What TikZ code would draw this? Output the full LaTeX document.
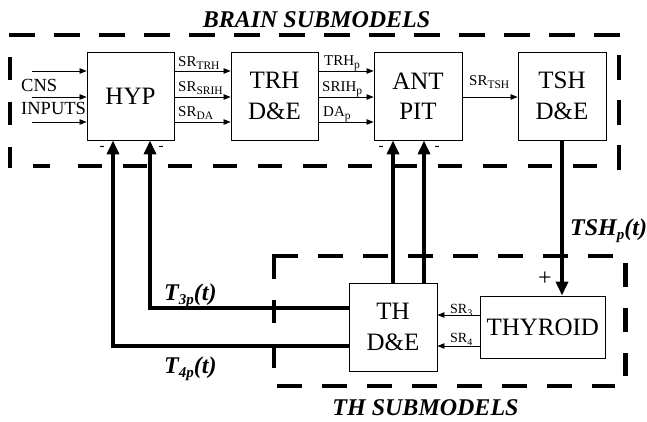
\documentclass[tikz,border=0pt]{standalone}
\usepackage{fontspec}
\setmainfont{Liberation Serif}
\usetikzlibrary{arrows.meta}
\newcommand{\lsub}[1]{\raisebox{-3pt}{\fontsize{11.5}{11.5}\selectfont #1}}
\newcommand{\ssub}[1]{\raisebox{-3pt}{\fontsize{10}{10}\selectfont #1}}
\newcommand{\bsub}[1]{\raisebox{-4.5pt}{\fontsize{15}{15}\selectfont #1}}
\begin{document}
\begin{tikzpicture}[x=1pt,y=-1pt,
  box/.style={draw, line width=0.9pt, minimum width=87pt, minimum height=88pt, inner sep=0pt, align=center, font=\fontsize{25}{30.5}\selectfont},
  fb/.style={line width=4pt, line join=miter, -{Triangle[length=14pt,width=12pt]}},
  sig/.style={line width=0.8pt, -{Triangle[length=7pt,width=5.5pt]}},
  lbl/.style={anchor=base west, inner sep=0pt, font=\fontsize{15}{15}\selectfont},
  slbl/.style={anchor=base west, inner sep=0pt, font=\fontsize{14}{14}\selectfont},
  inlbl/.style={anchor=base west, inner sep=0pt, font=\fontsize{18.5}{18.5}\selectfont},
  big/.style={inner sep=0pt, font=\fontsize{24}{24}\selectfont\bfseries\itshape},
  sign/.style={inner sep=0pt, font=\fontsize{15}{15}\selectfont},
  dsh/.style={line width=4.5pt}
]
\useasboundingbox (0,0) rectangle (647,422);

% dashed submodel frames
\draw[dsh, dash pattern=on 26pt off 19pt] (9,35) -- (620,35);
\draw[dsh, dash pattern=on 23pt off 22pt] (10,57) -- (10,168);
\draw[dsh, dash pattern=on 25pt off 20pt] (619,55) -- (619,170);
\draw[dsh] (33,166) -- (50,166);
\draw[dsh, dash pattern=on 24pt off 21pt] (78,166) -- (597,166);

\draw[dsh, line join=miter] (274,279) -- (274,256) -- (298,256);
\draw[dsh, dash pattern=on 25pt off 20pt] (318,256) -- (613,256);
\draw[dsh, dash pattern=on 23pt off 24pt] (274,300) -- (274,368);
\draw[dsh, dash pattern=on 25pt off 20pt] (277,386) -- (615,386);
\draw[dsh, dash pattern=on 24pt off 21pt] (625.5,263) -- (625.5,376);

% blocks
\node[box] (hyp) at (130.5,96) {HYP};
\node[box] (trh) at (274.5,96) {TRH\\D\&E};
\node[box, minimum width=88pt] (ant) at (418,96) {ANT\\PIT};
\node[box, minimum width=88pt] (tsh) at (562,96) {TSH\\D\&E};
\node[box, minimum width=88pt] (th) at (393,327) {TH\\D\&E};
\node[box, minimum width=125.5pt, minimum height=62pt] (thy) at (542.75,327) {THYROID};

% CNS inputs
\coordinate (in1) at (32,71);
\coordinate (in2) at (32,97);
\coordinate (in3) at (32,122);
\draw[sig] (in1) -- (in1 -| hyp.west);
\draw[sig] (in2) -- (in2 -| hyp.west);
\draw[sig] (in3) -- (in3 -| hyp.west);
\node[inlbl] (cns) at (21,92) {CNS};
\node[inlbl] (inputs) at (21,115) {INPUTS};

% HYP -> TRH
\draw[sig] (hyp.east |- in1) -- (trh.west |- in1);
\draw[sig] (hyp.east |- in2) -- (trh.west |- in2);
\draw[sig] (hyp.east |- in3) -- (trh.west |- in3);
\node[lbl] (l1) at (178,67) {SR\lsub{TRH}};
\node[lbl] (l2) at (178,92) {SR\lsub{SRIH}};
\node[lbl] (l3) at (178,117) {SR\lsub{DA}};

% TRH -> ANT
\draw[sig] (trh.east |- in1) -- (ant.west |- in1);
\draw[sig] (trh.east |- in2) -- (ant.west |- in2);
\draw[sig] (trh.east |- in3) -- (ant.west |- in3);
\node[lbl] (l4) at (324,66) {TRH\lsub{p}};
\node[lbl] (l5) at (322,92) {SRIH\lsub{p}};
\node[lbl] (l6) at (323,117) {DA\lsub{p}};

% ANT -> TSH
\draw[sig] ([yshift=-1pt]ant.east) -- ([yshift=-1pt]tsh.west);
\node[lbl] (l7) at (469,86) {SR\lsub{TSH}};

% THYROID -> TH
\draw[sig] ([yshift=12pt]thy.west) -- ([yshift=12pt]th.east);
\draw[sig] ([yshift=-19pt]thy.west) -- ([yshift=-19pt]th.east);
\node[slbl] (l8) at (450,313) {SR\ssub{3}};
\node[slbl] (l9) at (450,342) {SR\ssub{4}};

% feedback and TSH connections
\draw[fb] ([yshift=19pt]th.west) -| ([xshift=19.5pt]hyp.south);
\draw[fb] ([yshift=-19pt]th.west) -| ([xshift=-17.5pt]hyp.south);
\draw[fb] (th.north) -- (th.north |- ant.south);
\draw[fb] ([xshift=31pt]th.north) -- ([xshift=31pt]th.north |- ant.south);
\draw[fb] (tsh.south) -- (tsh.south |- thy.north);

% signs
\node[sign] (m1) at (102,148) {-};
\node[sign] (m2) at (161,148) {-};
\node[sign] (m3) at (381,148) {-};
\node[sign] (m4) at (437,148) {-};
\node[inner sep=0pt, font=\fontsize{24}{24}\selectfont] (plus) at (545,279) {+};

% big labels
\node[big, anchor=base] (brain) at (316.5,28) {BRAIN SUBMODELS};
\node[big, anchor=base] (thsub) at (425.5,415) {TH SUBMODELS};
\node[big, anchor=base west] (tshp) at (570,235) {TSH\bsub{p}(t)};
\node[big, anchor=base west] (t3) at (164,300) {T\bsub{3p}(t)};
\node[big, anchor=base west] (t4) at (164,373) {T\bsub{4p}(t)};
\end{tikzpicture}
\end{document}
